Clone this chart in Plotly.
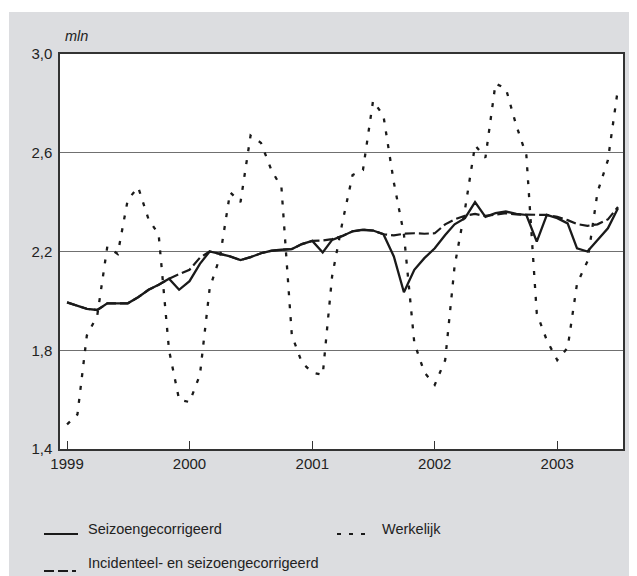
import plotly.graph_objects as go
import pandas as pd

months = pd.date_range("1999-01-01", "2003-07-01", freq="MS").strftime("%Y-%m-%d").tolist()

werkelijk = [1.50, 1.54, 1.86, 1.94, 2.22, 2.19, 2.41, 2.46, 2.33, 2.27,
             1.80, 1.60, 1.59, 1.70, 2.05, 2.18, 2.44, 2.40, 2.67, 2.64,
             2.53, 2.46, 1.86, 1.75, 1.71, 1.70, 2.10, 2.32, 2.51, 2.53,
             2.81, 2.75, 2.48, 2.27, 1.83, 1.71, 1.66, 1.76, 2.14, 2.37,
             2.63, 2.58, 2.88, 2.86, 2.71, 2.59, 1.95, 1.84, 1.76, 1.81,
             2.07, 2.16, 2.44, 2.57, 2.86]

seizoen = [1.994, 1.98, 1.968, 1.963, 1.99, 1.99, 1.99, 2.015, 2.045, 2.065,
           2.09, 2.045, 2.08, 2.15, 2.20, 2.19, 2.18, 2.165, 2.177, 2.193,
           2.203, 2.207, 2.21, 2.23, 2.243, 2.196, 2.247, 2.263, 2.282, 2.288,
           2.285, 2.27, 2.18, 2.035, 2.126, 2.173, 2.213, 2.267, 2.31, 2.335,
           2.40, 2.34, 2.355, 2.362, 2.352, 2.348, 2.24, 2.348, 2.335, 2.314,
           2.213, 2.20, 2.247, 2.294, 2.375]

incidenteel = [1.994, 1.98, 1.968, 1.963, 1.99, 1.99, 1.99, 2.015, 2.045, 2.065,
               2.09, 2.108, 2.126, 2.175, 2.20, 2.19, 2.18, 2.165, 2.177, 2.193,
               2.203, 2.207, 2.21, 2.23, 2.243, 2.245, 2.25, 2.263, 2.282, 2.288,
               2.285, 2.27, 2.265, 2.272, 2.274, 2.272, 2.274, 2.31, 2.33, 2.345,
               2.352, 2.344, 2.35, 2.355, 2.35, 2.35, 2.348, 2.348, 2.34, 2.327,
               2.311, 2.304, 2.31, 2.33, 2.38]

year_ticks = ["1999-01-01", "2000-01-01", "2001-01-01", "2002-01-01", "2003-01-01"]
year_labels = ["1999", "2000", "2001", "2002", "2003"]
y_ticks = [1.4, 1.8, 2.2, 2.6, 3.0]
y_labels = ["1,4", "1,8", "2,2", "2,6", "3,0"]

names = ["Seizoengecorrigeerd", "Werkelijk", "Incidenteel- en seizoengecorrigeerd"]

INK = "#1a1a1a"
TXT = "#222"
GREY = "#dcdde0"
FONT = "Liberation Sans, Arial, sans-serif"
DOT = "4px,9px"
DASH = "10px,4px"

fig = go.Figure()
fig.add_trace(go.Scatter(x=months, y=incidenteel, mode="lines", name=names[2],
                         line=dict(color=INK, width=2.2, dash=DASH)))
fig.add_trace(go.Scatter(x=months, y=seizoen, mode="lines", name=names[0],
                         line=dict(color=INK, width=2.3)))
fig.add_trace(go.Scatter(x=months, y=werkelijk, mode="lines", name=names[1],
                         line=dict(color=INK, width=2.3, dash=DOT)))

# the page body adds an 8px margin, so the figure is laid out 8px up/left
OFF = 8
W, H = 637 - OFF, 576 - OFF
L, R, T, B = 52, 14, 46, 127
pw, ph = W - L - R, H - T - B

def px(xr):
    return (xr - OFF - L) / pw

def py(yr):
    return (H - B - (yr - OFF)) / ph

shapes = [
    dict(type="rect", xref="paper", yref="paper", x0=px(-20), x1=px(700), y0=py(-20), y1=py(12),
         fillcolor="white", line=dict(width=0), layer="below"),
    dict(type="rect", xref="paper", yref="paper", x0=px(-20), x1=px(9), y0=py(700), y1=py(-20),
         fillcolor="white", line=dict(width=0), layer="below"),
    # legend keys
    dict(type="line", xref="paper", yref="paper", x0=px(44), x1=px(78), y0=py(534), y1=py(534),
         line=dict(color=INK, width=2.2)),
    dict(type="line", xref="paper", yref="paper", x0=px(337), x1=px(366), y0=py(534), y1=py(534),
         line=dict(color=INK, width=2.2, dash="4px,8px")),
    dict(type="line", xref="paper", yref="paper", x0=px(44), x1=px(76), y0=py(571), y1=py(571),
         line=dict(color=INK, width=2.2, dash="10px,4px")),
]

annotations = [
    dict(text="<i>mln</i>", xref="paper", yref="paper", x=px(63), y=py(36),
         xanchor="left", yanchor="middle", showarrow=False, font=dict(size=14.5, family=FONT, color=TXT)),
    dict(text=names[0], xref="paper", yref="paper", x=px(86), y=py(529),
         xanchor="left", yanchor="middle", showarrow=False, font=dict(size=14.5, family=FONT, color=TXT)),
    dict(text=names[1], xref="paper", yref="paper", x=px(380), y=py(529),
         xanchor="left", yanchor="middle", showarrow=False, font=dict(size=14.5, family=FONT, color=TXT)),
    dict(text=names[2], xref="paper", yref="paper", x=px(86), y=py(563),
         xanchor="left", yanchor="middle", showarrow=False, font=dict(size=14.5, family=FONT, color=TXT)),
]

fig.update_layout(
    width=W, height=H,
    margin=dict(l=L, r=R, t=T, b=B, autoexpand=False),
    paper_bgcolor=GREY,
    plot_bgcolor="white",
    font=dict(family=FONT, size=15, color=TXT),
    showlegend=False,
    xaxis=dict(type="date", range=["1998-12-11", "2003-07-16"],
               tickvals=year_ticks, ticktext=year_labels,
               ticks="inside", ticklen=8, tickwidth=1, tickcolor="#333",
               showgrid=False, showline=True, linecolor="#333", linewidth=1.5, mirror=True,
               zeroline=False, tickfont=dict(size=15)),
    yaxis=dict(range=[1.4, 3.0], tickvals=y_ticks, ticktext=y_labels,
               ticks="", showgrid=True, gridcolor="#707070", gridwidth=1.2,
               showline=True, linecolor="#333", linewidth=1.5, mirror=True,
               zeroline=False, tickfont=dict(size=15), ticklabelstandoff=3),
    shapes=shapes,
    annotations=annotations,
)

fig.write_html("out.html")
